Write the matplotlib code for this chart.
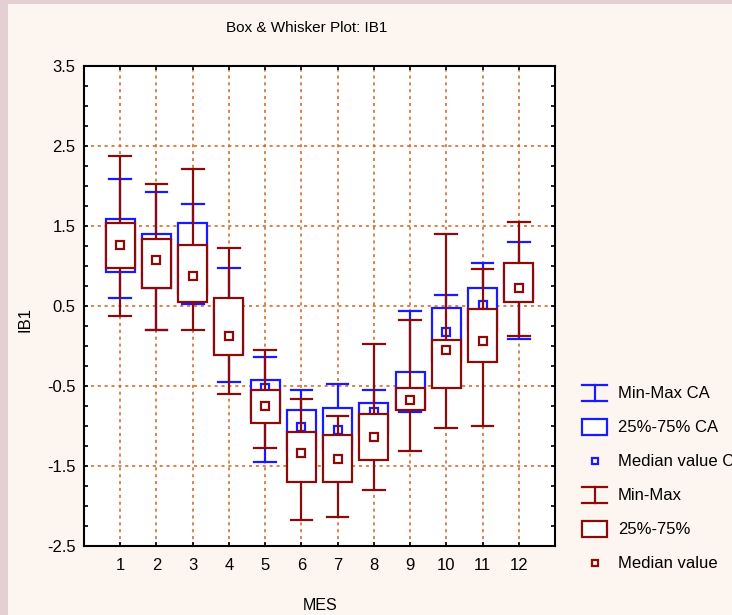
import matplotlib
matplotlib.use("Agg")
import matplotlib.pyplot as plt
from matplotlib.patches import Rectangle
from matplotlib.ticker import MultipleLocator, FormatStrFormatter

plt.rcParams['font.family'] = ['Liberation Sans Narrow', 'Liberation Sans', 'DejaVu Sans']

# --- data (IB1 by month) ---
months = [1, 2, 3, 4, 5, 6, 7, 8, 9, 10, 11, 12]
y_ticks = [-2.5, -1.5, -0.5, 0.5, 1.5, 2.5, 3.5]

ca_min = [0.60, 0.20, 0.52, -0.45, -1.45, -1.55, -1.60, -1.30, -0.82, -0.45, -0.10, 0.09]
ca_q1 = [0.93, 0.73, 0.65, -0.05, -0.90, -1.30, -1.30, -1.10, -0.78, -0.20, 0.20, 0.60]
ca_med = [1.26, 1.07, 0.87, 0.13, -0.52, -1.01, -1.05, -0.82, -0.65, 0.175, 0.51, 0.75]
ca_q3 = [1.59, 1.40, 1.54, 0.55, -0.43, -0.80, -0.78, -0.71, -0.32, 0.48, 0.73, 0.95]
ca_max = [2.09, 1.92, 1.78, 0.975, -0.14, -0.55, -0.48, -0.55, 0.44, 0.64, 1.04, 1.30]

all_min = [0.38, 0.20, 0.20, -0.60, -1.28, -2.175, -2.14, -1.80, -1.31, -1.03, -1.00, 0.12]
all_q1 = [0.97, 0.72, 0.55, -0.11, -0.96, -1.70, -1.70, -1.425, -0.80, -0.53, -0.20, 0.555]
all_med = [1.26, 1.07, 0.87, 0.125, -0.75, -1.34, -1.41, -1.14, -0.675, -0.05, 0.06, 0.725]
all_q3 = [1.54, 1.34, 1.26, 0.60, -0.55, -1.08, -1.11, -0.85, -0.53, 0.07, 0.46, 1.04]
all_max = [2.375, 2.03, 2.21, 1.22, -0.05, -0.66, -0.87, 0.03, 0.325, 1.40, 0.96, 1.55]

legend_labels = ["Min-Max CA", "25%-75% CA", "Median value CA",
                 "Min-Max", "25%-75%", "Median value"]

BLUE = "#1a1aff"
RED = "#8b0a0a"
GRID = "#d2601a"
PANEL = "#fdf6f0"
EDGE = "#e4d0d2"

W, H = 732, 615
fig = plt.figure(figsize=(W / 100, H / 100), dpi=100, facecolor=EDGE)
fig.patches.append(Rectangle((8 / W, 0), 1, 1 - 4 / H, transform=fig.transFigure,
                             facecolor=PANEL, edgecolor="none", zorder=-10))

ax = fig.add_axes([84 / W, 1 - 546 / H, (555 - 84) / W, (546 - 66) / H])
ax.set_facecolor("white")

box_w = 0.8
cap_w = 0.6


def draw_series(lo, q1, med, q3, hi, color, z):
    for x, a, b, m, c, d in zip(months, lo, q1, med, q3, hi):
        ax.plot([x, x], [a, d], color=color, lw=1.6, zorder=z, solid_capstyle="butt")
        ax.plot([x - cap_w / 2, x + cap_w / 2], [a, a], color=color, lw=1.6, zorder=z)
        ax.plot([x - cap_w / 2, x + cap_w / 2], [d, d], color=color, lw=1.6, zorder=z)
        ax.add_patch(Rectangle((x - box_w / 2, b), box_w, c - b, facecolor="white",
                               edgecolor=color, lw=1.6, zorder=z + 1))
        ax.plot([x], [m], marker="s", ms=5.5, mfc="white", mec=color, mew=1.6,
                zorder=z + 2, linestyle="none")


draw_series(ca_min, ca_q1, ca_med, ca_q3, ca_max, BLUE, 3)
draw_series(all_min, all_q1, all_med, all_q3, all_max, RED, 6)

ax.set_xlim(0, 13)
ax.set_ylim(-2.5, 3.5)
ax.set_xticks(months)
ax.set_yticks(y_ticks)
ax.yaxis.set_minor_locator(MultipleLocator(0.25))
ax.yaxis.set_major_formatter(FormatStrFormatter("%.1f"))
ax.grid(True, which="major", color=GRID, linestyle=(0, (2, 2.5)), lw=1.1, zorder=1)
ax.set_axisbelow(True)
ax.tick_params(axis="both", which="both", direction="in", top=True, right=True,
               labelsize=12, width=1.2, color="black")
ax.tick_params(axis="both", which="major", length=3)
ax.tick_params(axis="y", which="minor", length=3)
ax.tick_params(axis="x", pad=9)
ax.tick_params(axis="y", pad=6)
for s in ax.spines.values():
    s.set_linewidth(1.5)
    s.set_color("black")
    s.set_zorder(10)

fig.text(307 / W, 1 - 28 / H, "Box & Whisker Plot: IB1", ha="center", va="center", fontsize=11)
fig.text(320 / W, 1 - 605 / H, "MES", ha="center", va="center", fontsize=11.5)
fig.text(25 / W, 1 - 319 / H, "IB1", ha="center", va="center", rotation=90, fontsize=12)

# legend drawn by hand in pixel units
lg = fig.add_axes([570 / W, 1 - 585 / H, (W - 570) / W, (585 - 370) / H])
lg.set_xlim(570, W)
lg.set_ylim(585, 370)
lg.axis("off")
lg.patch.set_alpha(0)
for i, label in enumerate(legend_labels):
    y = 393 + 34 * i
    color = BLUE if i < 3 else RED
    kind = i % 3
    if kind == 0:
        lg.plot([582, 607], [y - 8, y - 8], color=color, lw=1.6)
        lg.plot([582, 607], [y + 8, y + 8], color=color, lw=1.6)
        lg.plot([594.5, 594.5], [y - 8, y + 8], color=color, lw=1.6)
    elif kind == 1:
        lg.add_patch(Rectangle((582, y - 8), 25, 16, facecolor="white", edgecolor=color, lw=1.6))
    else:
        lg.plot([594.5], [y], marker="s", ms=5, mfc="white", mec=color, mew=1.6)
    lg.text(618, y, label, ha="left", va="center", fontsize=12, clip_on=False)

fig.savefig("out.png", dpi=100, facecolor=fig.get_facecolor())
